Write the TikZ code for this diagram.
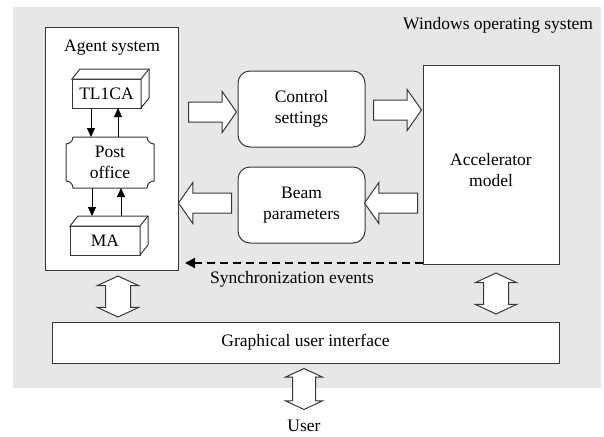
\documentclass[tikz,border=0pt]{standalone}
\usepackage{fontspec}
\setmainfont{Liberation Serif}
\usetikzlibrary{arrows.meta,calc,shapes.arrows}
\definecolor{bggray}{RGB}{231,231,231}
\definecolor{edge}{RGB}{55,55,55}
\begin{document}
\begin{tikzpicture}[x=1pt,y=-1pt,
  every node/.style={font=\fontsize{17.5}{21.5}\selectfont, inner sep=0pt, outer sep=0pt, align=center},
  box/.style={draw=edge, line width=1pt, fill=white},
  rbox/.style={box, rounded corners=12pt},
  harrow/.style={single arrow, draw=edge, line width=1pt, fill=white, inner sep=0pt, inner ysep=9.5pt,
    single arrow head extend=10.5pt, single arrow tip angle=110, single arrow head indent=0pt},
  varrow/.style={double arrow, draw=edge, line width=1pt, fill=white, inner sep=0pt, inner ysep=12pt,
    double arrow head extend=8pt, double arrow tip angle=130, rotate=90, minimum height=41pt},
  small/.style={draw=black, line width=1pt, -{Triangle[length=9pt,width=8pt]}},
  sync/.style={draw=black, line width=2pt, dash pattern=on 8pt off 5pt, -{Triangle[length=10pt,width=10pt]}}]

\useasboundingbox (0,0) rectangle (604,436);
\fill[bggray] (13,7) rectangle (601,388);
\node[anchor=east] (win) at (593,25) {Windows operating system};

% agent system
\node[box, minimum width=133pt, minimum height=242pt] (agent) at (111.5,149) {};
\node (agentlbl) at (112,48) {Agent system};

% TL1CA cube
\node[box, minimum width=69pt, minimum height=29pt] (tl) at (106.5,93.5) {TL1CA};
\draw[box, line join=miter] (tl.north west) -- ++(8,-10) -- ($(tl.north east)+(8,-10)$) -- ($(tl.south east)+(8,-10)$) -- (tl.south east) -- (tl.north east) -- cycle;
\draw[edge, line width=1pt] (tl.north east) -- ++(8,-10);

% post office
\draw[box] (73,137) -- (147,137) .. controls (147,140.9) and (150.1,144) .. (154,144) -- (154,181) .. controls (150.1,181) and (147,184.1) .. (147,188) -- (73,188) .. controls (73,184.1) and (69.9,181) .. (66,181) -- (66,144) .. controls (69.9,144) and (73,140.9) .. (73,137) -- cycle;
\node[minimum width=88pt, minimum height=51pt] (po) at (110,162.5) {Post\\office};

% MA cube
\node[box, minimum width=70pt, minimum height=29pt] (ma) at (105,240.5) {MA};
\draw[box, line join=miter] (ma.north west) -- ++(8,-10) -- ($(ma.north east)+(8,-10)$) -- ($(ma.south east)+(8,-10)$) -- (ma.south east) -- (ma.north east) -- cycle;
\draw[edge, line width=1pt] (ma.north east) -- ++(8,-10);

% small arrows
\draw[small] ($(tl.south)+(-15.5,0)$) -- ($(po.north)+(-19,0)$);
\draw[small] ($(po.north)+(8,0)$) -- ($(tl.south)+(11.5,0)$);
\draw[small] ($(po.south)+(-18,0)$) -- ($(ma.north)+(-13,-10)$);
\draw[small] ($(ma.north)+(16,-10)$) -- ($(po.south)+(11,0)$);

% central boxes
\node[rbox, minimum width=127pt, minimum height=76pt] (ctrl) at (301.5,109) {Control\\settings};
\node[rbox, minimum width=127pt, minimum height=76pt] (beam) at (301.5,205) {Beam\\parameters};
\node[box, minimum width=136pt, minimum height=199pt] (acc) at (491,164.5) {};
\node (acclbl) at (491,170) {Accelerator\\model};

% block arrows
\node[harrow, minimum height=48pt] (a1) at (209,112) {};
\node[harrow, minimum height=48pt] (a2) at (394,110) {};
\node[harrow, minimum height=53pt, shape border rotate=180] (a3) at (394.5,203) {};
\node[harrow, minimum height=53pt, shape border rotate=180] (a4) at (208.5,203) {};

% synchronization
\draw[sync] ($(acc.south west)+(0,-1)$) -- ($(agent.south east)+(7,-7)$);
\node (synclbl) at (292,279) {Synchronization events};

% GUI
\node[box, minimum width=507pt, minimum height=41pt] (gui) at (305.5,342.5) {Graphical user interface};
\node[varrow] (d1) at (118,296.5) {};
\node[varrow] (d2) at (496,293.5) {};
\node[varrow, inner ysep=11pt, double arrow head extend=7pt] (d3) at (304,389) {};
\node (user) at (304,426) {User};
\end{tikzpicture}
\end{document}
